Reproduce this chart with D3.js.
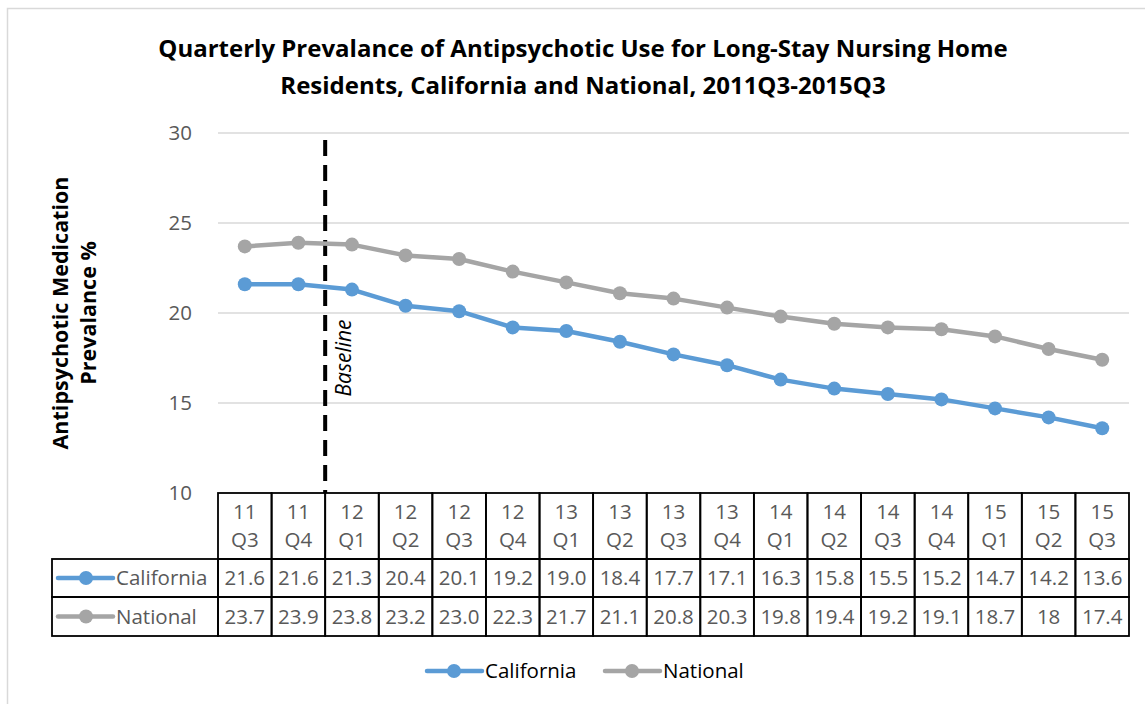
<!DOCTYPE html>
<html>
<head>
<meta charset="utf-8">
<script src="https://cdn.jsdelivr.net/npm/d3@7"></script>
<style>
  body { margin: 0; background: #fff; }
  text { font-family: "Open Sans", "Noto Sans", sans-serif; }
</style>
</head>
<body>
<div id="chart"></div>
<script>
const years = ["11", "11", "12", "12", "12", "12", "13", "13", "13", "13", "14", "14", "14", "14", "15", "15", "15"];
const quarters = ["Q3", "Q4", "Q1", "Q2", "Q3", "Q4", "Q1", "Q2", "Q3", "Q4", "Q1", "Q2", "Q3", "Q4", "Q1", "Q2", "Q3"];
const california = [21.6, 21.6, 21.3, 20.4, 20.1, 19.2, 19.0, 18.4, 17.7, 17.1, 16.3, 15.8, 15.5, 15.2, 14.7, 14.2, 13.6];
const national = [23.7, 23.9, 23.8, 23.2, 23.0, 22.3, 21.7, 21.1, 20.8, 20.3, 19.8, 19.4, 19.2, 19.1, 18.7, 18, 17.4];
const californiaLabels = ["21.6", "21.6", "21.3", "20.4", "20.1", "19.2", "19.0", "18.4", "17.7", "17.1", "16.3", "15.8", "15.5", "15.2", "14.7", "14.2", "13.6"];
const nationalLabels = ["23.7", "23.9", "23.8", "23.2", "23.0", "22.3", "21.7", "21.1", "20.8", "20.3", "19.8", "19.4", "19.2", "19.1", "18.7", "18", "17.4"];
const yTicks = [10, 15, 20, 25, 30];

const series = [
    {name: "California", values: california, labels: californiaLabels, color: "#5B9BD5"},
    {name: "National", values: national, labels: nationalLabels, color: "#A5A5A5"}
];

const width = 1145, height = 704;
const plot = {left: 218, right: 1129, top: 133, bottom: 493};
const textGray = "#595959";
const fs = "20.5px";

const svg = d3.select("#chart").append("svg")
    .attr("width", width)
    .attr("height", height);

// outer chart border
svg.append("rect")
    .attr("x", 7.5).attr("y", 8.5)
    .attr("width", width).attr("height", height)
    .attr("fill", "#fff")
    .attr("stroke", "#D9D9D9")
    .attr("stroke-width", 1.5);

const idx = d3.range(quarters.length);

const x = d3.scaleBand()
    .domain(idx)
    .range([plot.left, plot.right]);

const y = d3.scaleLinear()
    .domain([10, 30])
    .range([plot.bottom, plot.top]);

// title
const title = svg.append("text")
    .attr("text-anchor", "middle")
    .style("font-size", "24px")
    .style("font-weight", "bold")
    .attr("fill", "#000");
title.append("tspan").attr("x", 583).attr("y", 57)
    .text("Quarterly Prevalance of Antipsychotic Use for Long-Stay Nursing Home");
title.append("tspan").attr("x", 583).attr("y", 94)
    .text("Residents, California and National, 2011Q3-2015Q3");

// gridlines
svg.append("g")
    .selectAll("line")
    .data(yTicks.filter(d => d > 10))
    .enter().append("line")
    .attr("x1", plot.left).attr("x2", plot.right)
    .attr("y1", d => y(d)).attr("y2", d => y(d))
    .attr("stroke", "#D9D9D9")
    .attr("stroke-width", 1.5);

// y axis
const yAxis = d3.axisLeft(y).tickValues(yTicks).tickSize(0).tickPadding(26);
const yg = svg.append("g")
    .attr("transform", `translate(${plot.left},0)`)
    .call(yAxis);
yg.select(".domain").remove();
yg.selectAll("text")
    .style("font-size", fs)
    .style("font-family", "'Open Sans', sans-serif")
    .attr("fill", textGray);

// y axis title
const ytitle = svg.append("text")
    .attr("transform", "translate(68,313) rotate(-90)")
    .attr("text-anchor", "middle")
    .style("font-size", "21.5px")
    .style("font-weight", "bold")
    .attr("fill", "#000");
ytitle.append("tspan").attr("x", 0).attr("y", 0).text("Antipsychotic Medication");
ytitle.append("tspan").attr("x", 0).attr("y", 28).text("Prevalance %");

// baseline marker between 11Q4 and 12Q1
const baseX = x(2);
svg.append("line")
    .attr("x1", baseX).attr("x2", baseX)
    .attr("y1", 140).attr("y2", plot.bottom)
    .attr("stroke", "#000")
    .attr("stroke-width", 4)
    .attr("stroke-dasharray", "16,9");
svg.append("text")
    .attr("transform", `translate(${baseX + 26},358) rotate(-90)`)
    .attr("text-anchor", "middle")
    .style("font-size", "21px")
    .style("font-style", "italic")
    .attr("fill", "#000")
    .text("Baseline");

// lines and markers
const line = d3.line()
    .x((d, i) => x(i) + x.bandwidth() / 2)
    .y(d => y(d));

series.forEach(s => {
    svg.append("path")
        .datum(s.values)
        .attr("d", line)
        .attr("fill", "none")
        .attr("stroke", s.color)
        .attr("stroke-width", 4.5)
        .attr("stroke-linejoin", "round");
    svg.append("g")
        .selectAll("circle")
        .data(s.values)
        .enter().append("circle")
        .attr("cx", (d, i) => x(i) + x.bandwidth() / 2)
        .attr("cy", d => y(d))
        .attr("r", 7)
        .attr("fill", s.color);
});

// data table
const rowTop = [plot.bottom, 559, 597];
const rowBottom = [559, 597, 636];
const tableLeft = 52;
const table = svg.append("g");

// header cells
table.selectAll("rect.head")
    .data(idx)
    .enter().append("rect")
    .attr("class", "head")
    .attr("x", d => x(d)).attr("y", rowTop[0])
    .attr("width", x.bandwidth()).attr("height", rowBottom[0] - rowTop[0])
    .attr("fill", "none").attr("stroke", "#000").attr("stroke-width", 1.8);

const head = table.selectAll("text.head")
    .data(idx)
    .enter().append("text")
    .attr("class", "head")
    .attr("text-anchor", "middle")
    .style("font-size", fs)
    .attr("fill", textGray);
head.append("tspan")
    .attr("x", d => x(d) + x.bandwidth() / 2).attr("y", rowTop[0] + 26)
    .text(d => years[d]);
head.append("tspan")
    .attr("x", d => x(d) + x.bandwidth() / 2).attr("y", rowTop[0] + 54)
    .text(d => quarters[d]);

series.forEach((s, k) => {
    const top = rowTop[k + 1], bot = rowBottom[k + 1];
    const mid = (top + bot) / 2;
    // label cell
    table.append("rect")
        .attr("x", tableLeft).attr("y", top)
        .attr("width", plot.left - tableLeft).attr("height", bot - top)
        .attr("fill", "none").attr("stroke", "#000").attr("stroke-width", 1.8);
    table.append("line")
        .attr("x1", 58).attr("x2", 113)
        .attr("y1", mid).attr("y2", mid)
        .attr("stroke", s.color).attr("stroke-width", 4.5)
        .attr("stroke-linecap", "round");
    table.append("circle")
        .attr("cx", 86).attr("cy", mid).attr("r", 7)
        .attr("fill", s.color);
    table.append("text")
        .attr("x", 116).attr("y", mid + 7)
        .style("font-size", fs)
        .attr("fill", textGray)
        .text(s.name);
    // value cells
    table.selectAll(null)
        .data(idx)
        .enter().append("rect")
        .attr("x", d => x(d)).attr("y", top)
        .attr("width", x.bandwidth()).attr("height", bot - top)
        .attr("fill", "none").attr("stroke", "#000").attr("stroke-width", 1.8);
    table.selectAll(null)
        .data(idx)
        .enter().append("text")
        .attr("x", d => x(d) + x.bandwidth() / 2)
        .attr("y", mid + 7)
        .attr("text-anchor", "middle")
        .style("font-size", fs)
        .attr("fill", textGray)
        .text(d => s.labels[d]);
});

// legend
const legend = svg.append("g");
const legendX = [427, 605];
series.forEach((s, k) => {
    const lx = legendX[k], ly = 671;
    legend.append("line")
        .attr("x1", lx).attr("x2", lx + 55)
        .attr("y1", ly).attr("y2", ly)
        .attr("stroke", s.color).attr("stroke-width", 4.5)
        .attr("stroke-linecap", "round");
    legend.append("circle")
        .attr("cx", lx + 27).attr("cy", ly).attr("r", 7)
        .attr("fill", s.color);
    legend.append("text")
        .attr("x", lx + 58).attr("y", ly + 7)
        .style("font-size", fs)
        .attr("fill", "#000")
        .text(s.name);
});
</script>
</body>
</html>
